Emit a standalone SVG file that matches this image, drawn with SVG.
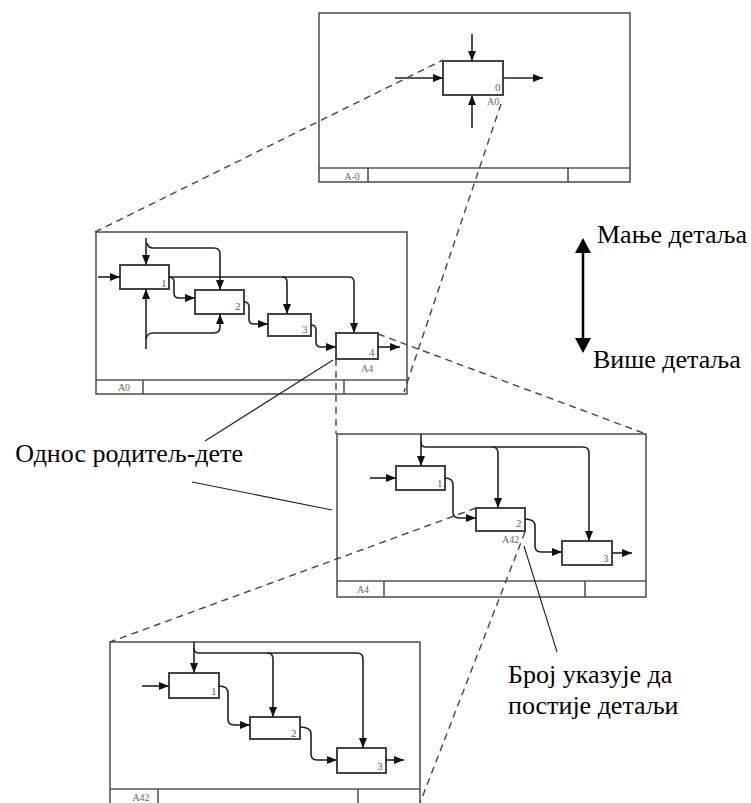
<svg xmlns="http://www.w3.org/2000/svg" width="751" height="803" viewBox="0 0 751 803">
  <defs>
    <marker id="ah" viewBox="0 0 10 8" refX="10" refY="4" markerWidth="11" markerHeight="8" orient="auto" markerUnits="userSpaceOnUse">
      <path d="M0,0 L10,4 L0,8 z" fill="#111"/>
    </marker>
  </defs>
  <style>
    .frame { fill: none; stroke: #555; stroke-width: 1.6; }
    .foot { fill: none; stroke: #555; stroke-width: 1.6; }
    .box { fill: #fff; stroke: #444; stroke-width: 2; }
    .num { font-family: "Liberation Serif", serif; font-size: 11px; fill: #3f5d96; }
    .tag { font-family: "Liberation Serif", serif; font-size: 10px; fill: #5d6a7a; }
    .ftxt { font-family: "Liberation Serif", serif; font-size: 10px; fill: #6b6a48; text-anchor: middle; }
    .arr { fill: none; stroke: #222; stroke-width: 1.6; marker-end: url(#ah); }
    .ln { fill: none; stroke: #222; stroke-width: 1.6; }
    .dash { fill: none; stroke: #444; stroke-width: 1.4; stroke-dasharray: 7 5; }
    .lead { fill: none; stroke: #222; stroke-width: 1.1; }
    .lbl { font-family: "Liberation Serif", "Times New Roman", serif; font-size: 26px; fill: #000; }
  </style>

  <rect x="0" y="0" width="751" height="803" fill="#fff"/>

  <!-- Level A-0 -->
  <g id="frame-a-0">
    <rect class="frame" x="319" y="13" width="311" height="169"/>
    <path class="foot" d="M319,168 H630 M368,168 V182 M568,168 V182"/>
    <text class="ftxt" x="352" y="180">A-0</text>
    <g id="a-0-box0">
      <rect class="box" x="443" y="61" width="60" height="34"/>
      <text class="num" x="495" y="91">0</text>
      <text class="tag" x="487" y="105">A0</text>
    </g>
  </g>

  <!-- Level A0 -->
  <g id="frame-a0">
    <rect class="frame" x="96" y="232" width="311" height="162"/>
    <path class="foot" d="M96,380 H407 M143,380 V394 M344,380 V394"/>
    <text class="ftxt" x="124" y="391">A0</text>
    <g id="a0-box1">
      <rect class="box" x="120" y="265" width="49" height="24"/>
      <text class="num" x="161" y="287">1</text>
    </g>
    <g id="a0-box2">
      <rect class="box" x="195" y="290" width="49" height="24"/>
      <text class="num" x="235" y="310">2</text>
    </g>
    <g id="a0-box3">
      <rect class="box" x="268" y="314" width="43" height="22"/>
      <text class="num" x="302" y="333">3</text>
    </g>
    <g id="a0-box4">
      <rect class="box" x="336" y="333" width="42" height="26"/>
      <text class="num" x="369" y="356">4</text>
      <text class="tag" x="361" y="372">A4</text>
    </g>
  </g>

  <!-- Level A4 -->
  <g id="frame-a4">
    <rect class="frame" x="337" y="434" width="309" height="163"/>
    <path class="foot" d="M337,581 H646 M384,581 V597 M585,581 V597"/>
    <text class="ftxt" x="363" y="593">A4</text>
    <g id="a4-box1">
      <rect class="box" x="396" y="466" width="49" height="24"/>
      <text class="num" x="437" y="487">1</text>
    </g>
    <g id="a4-box2">
      <rect class="box" x="476" y="508" width="49" height="23"/>
      <text class="num" x="516" y="527">2</text>
      <text class="tag" x="502" y="543">A42</text>
    </g>
    <g id="a4-box3">
      <rect class="box" x="562" y="541" width="50" height="24"/>
      <text class="num" x="603" y="562">3</text>
    </g>
  </g>

  <!-- Level A42 -->
  <g id="frame-a42">
    <rect class="frame" x="110" y="642" width="310" height="170"/>
    <path class="foot" d="M110,789 H420 M158,789 V803 M358,789 V803"/>
    <text class="ftxt" x="141" y="801">A42</text>
    <g id="a42-box1">
      <rect class="box" x="169" y="673" width="50" height="25"/>
      <text class="num" x="211" y="695">1</text>
    </g>
    <g id="a42-box2">
      <rect class="box" x="250" y="717" width="50" height="22"/>
      <text class="num" x="291" y="737">2</text>
    </g>
    <g id="a42-box3">
      <rect class="box" x="337" y="748" width="49" height="25"/>
      <text class="num" x="377" y="770">3</text>
    </g>
  </g>

  <!-- Arrows inside the activity frames -->
  <g id="connectors">
    <!-- A-0 -->
    <path class="arr" d="M472,34 V61"/>
    <path class="arr" d="M472,128 V95"/>
    <path class="arr" d="M395,78 H443"/>
    <path class="arr" d="M503,78 H543"/>

    <!-- A0 -->
    <path class="arr" d="M98,277 H120"/>
    <path class="arr" d="M146,238 V265"/>
    <path class="arr" d="M147,243 Q148,248 153,248 H214 Q220,248 220,254 V290"/>
    <path class="ln" d="M169,277 H349 Q354,277 354,282"/>
    <path class="arr" d="M354,282 V333"/>
    <path class="arr" d="M282,277 Q287,277 287,282 V314"/>
    <path class="arr" d="M169,277 Q174,277 174,282 V293 Q174,298 179,298 H195"/>
    <path class="arr" d="M244,302 Q249,302 249,307 V319 Q249,324 254,324 H268"/>
    <path class="arr" d="M311,325 Q316,325 316,330 V342 Q316,347 321,347 H336"/>
    <path class="arr" d="M378,347 H400"/>
    <path class="arr" d="M146,349 V289"/>
    <path class="arr" d="M146,339 Q147,333 153,333 H214 Q220,333 220,327 V314"/>

    <!-- A4 -->
    <path class="arr" d="M370,478 H396"/>
    <path class="arr" d="M421,434 V466"/>
    <path class="ln" d="M421,442 Q421,447 426,447 H583 Q589,447 589,453"/>
    <path class="arr" d="M589,453 V541"/>
    <path class="arr" d="M492,447 Q498,447 498,453 V508"/>
    <path class="arr" d="M445,478 Q453,478 453,485 V512 Q453,518 459,518 H476"/>
    <path class="arr" d="M525,519 Q535,519 535,526 V546 Q535,552 541,552 H562"/>
    <path class="arr" d="M612,553 H632"/>

    <!-- A42 -->
    <path class="arr" d="M142,686 H169"/>
    <path class="arr" d="M194,642 V673"/>
    <path class="ln" d="M194,648 Q194,653 199,653 H357 Q363,653 363,659"/>
    <path class="arr" d="M363,659 V748"/>
    <path class="arr" d="M267,653 Q273,653 273,659 V717"/>
    <path class="arr" d="M219,686 Q228,686 228,693 V719 Q228,725 234,725 H250"/>
    <path class="arr" d="M300,727 Q311,727 311,734 V754 Q311,760 317,760 H337"/>
    <path class="arr" d="M386,760 H404"/>
  </g>

  <!-- Parent-child projection lines -->
  <g id="projections">
    <path class="dash" d="M95,232 L443,60"/>
    <path class="dash" d="M501,104 L404,392"/>
    <path class="dash" d="M378,334 L646,434"/>
    <path class="dash" d="M336,359 V434"/>
    <path class="dash" d="M476,508 L110,642"/>
    <path class="dash" d="M525,532 L420,803"/>
  </g>

  <!-- Callout leaders -->
  <g id="leaders">
    <path class="lead" d="M333,360 L205,441"/>
    <path class="lead" d="M192,482 L332,510"/>
    <path class="lead" d="M524,546 L557,652"/>
  </g>

  <!-- Detail scale -->
  <g id="detail-scale">
    <path fill="none" stroke="#000" stroke-width="2.5" d="M583,250 V341"/>
    <path d="M583,238 L591,253 L575,253 z" fill="#000"/>
    <path d="M583,353 L591,338 L575,338 z" fill="#000"/>
    <text class="lbl" x="597" y="243">Мање детаља</text>
    <text class="lbl" x="593" y="368">Више детаља</text>
  </g>

  <g id="labels">
    <text class="lbl" x="243" y="462" text-anchor="end">Однос родитељ-дете</text>
    <text class="lbl" x="508" y="683">Број указује да</text>
    <text class="lbl" x="508" y="714">постије детаљи</text>
  </g>
</svg>
